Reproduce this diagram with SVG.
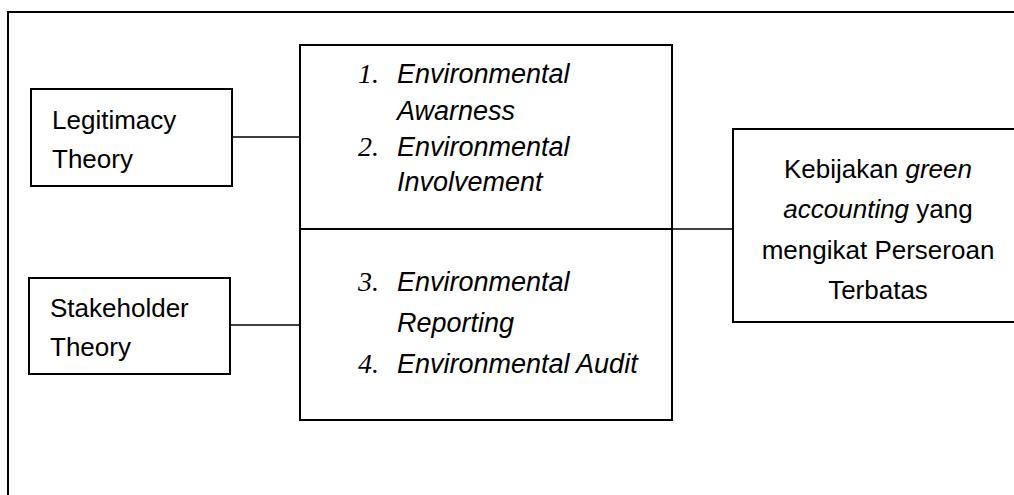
<svg xmlns="http://www.w3.org/2000/svg" width="1014" height="495" viewBox="0 0 1014 495">
<style>
.box{fill:#fff;stroke:#000;stroke-width:2}
.t{font-family:"Liberation Sans",Arial,sans-serif;font-size:26px;fill:#000}
.i{font-style:italic}
.li{font-size:27px}
.num{font-family:"Liberation Serif","Times New Roman",serif;font-style:italic;font-size:28px;fill:#000}
.conn{stroke:#000;stroke-width:1.5;fill:none}
</style>
<rect width="1014" height="495" fill="#fff"/>
<g id="frame">
<path d="M8,500 V12 H1020" fill="none" stroke="#000" stroke-width="2"/>
</g>
<g id="connectors">
<line class="conn" x1="232" y1="137" x2="300" y2="137"/>
<line class="conn" x1="230" y1="325" x2="300" y2="325"/>
<line class="conn" x1="672" y1="229" x2="733" y2="229"/>
</g>
<g id="legitimacy">
<rect class="box" x="31" y="89" width="201" height="97"/>
<text class="t" x="52" y="129">Legitimacy</text>
<text class="t" x="52" y="168">Theory</text>
</g>
<g id="stakeholder">
<rect class="box" x="29" y="278" width="201" height="96"/>
<text class="t" x="50" y="317">Stakeholder</text>
<text class="t" x="50" y="356">Theory</text>
</g>
<g id="indicators">
<rect class="box" x="300" y="45" width="372" height="375"/>
<line x1="300" y1="229" x2="672" y2="229" stroke="#000" stroke-width="2"/>
<text class="num" x="358" y="83">1.</text>
<text class="t i li" x="397" y="83">Environmental</text>
<text class="t i li" x="397" y="120">Awarness</text>
<text class="num" x="358" y="156">2.</text>
<text class="t i li" x="397" y="156">Environmental</text>
<text class="t i li" x="397" y="191">Involvement</text>
<text class="num" x="358" y="291">3.</text>
<text class="t i li" x="397" y="291">Environmental</text>
<text class="t i li" x="397" y="332">Reporting</text>
<text class="num" x="358" y="373">4.</text>
<text class="t i li" x="397" y="373">Environmental Audit</text>
</g>
<g id="kebijakan">
<rect class="box" x="733" y="129" width="300" height="193"/>
<text class="t" x="878" y="178" text-anchor="middle">Kebijakan <tspan class="i">green</tspan></text>
<text class="t" x="878" y="218" text-anchor="middle"><tspan class="i">accounting</tspan> yang</text>
<text class="t" x="878" y="259" text-anchor="middle">mengikat Perseroan</text>
<text class="t" x="878" y="299" text-anchor="middle">Terbatas</text>
</g>
</svg>
